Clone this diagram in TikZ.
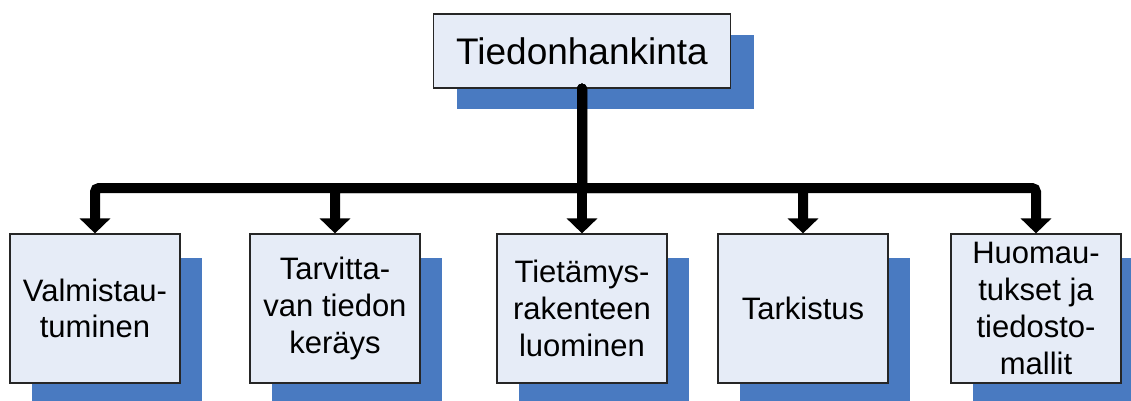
\documentclass[tikz,border=0pt]{standalone}
\usepackage{fontspec}
\setmainfont{Liberation Sans}
\usetikzlibrary{arrows.meta,shadows}
\definecolor{boxfill}{RGB}{230,236,247}
\definecolor{shadowblue}{RGB}{73,122,193}
\begin{document}
\begin{tikzpicture}[x=1pt,y=-1pt,
  box/.style={draw=black!85, line width=1.2pt, fill=boxfill, inner sep=0pt,
    align=center, text=black},
  topbox/.style={box, minimum width=297pt, minimum height=74pt,
    font=\fontsize{37}{44}\selectfont,
    drop shadow={shadow xshift=23pt, shadow yshift=-21.5pt, fill=shadowblue,
      opacity=1, draw=none}},
  stepbox/.style={box, minimum width=170pt, minimum height=149pt,
    font=\fontsize{31}{36.7}\selectfont,
    drop shadow={shadow xshift=21.5pt, shadow yshift=-24pt, fill=shadowblue,
      opacity=1, draw=none}},
  conn/.style={line width=10pt, black, line cap=round, rounded corners=4pt,
    -{Triangle[width=30pt,length=15pt]}}]
\useasboundingbox (0,0) rectangle (1131,401);

% boxes
\node[topbox] (top) at (582,51) {Tiedonhankinta};
\node[stepbox] (b1) at (95,308.5) {Valmistau-\\tuminen};
\node[stepbox] (b2) at (335,308.5) {Tarvitta-\\van tiedon\\keräys};
\node[stepbox] (b3) at (582,308.5) {Tietämys-\\rakenteen\\luominen};
\node[stepbox] (b4) at (803,308.5) {Tarkistus};
\node[stepbox] (b5) at (1036,308.5) {Huomau-\\tukset ja\\tiedosto-\\mallit};

% level of the horizontal bus
\coordinate (bus) at (582,188);

% connectors
\draw[conn] (top.south) -- (top.south |- bus) -| (b1.north);
\draw[conn] (top.south) -- (top.south |- bus) -| (b2.north);
\draw[conn] (top.south) -- (b3.north);
\draw[conn] (top.south) -- (top.south |- bus) -| (b4.north);
\draw[conn] (top.south) -- (top.south |- bus) -| (b5.north);
\end{tikzpicture}
\end{document}
